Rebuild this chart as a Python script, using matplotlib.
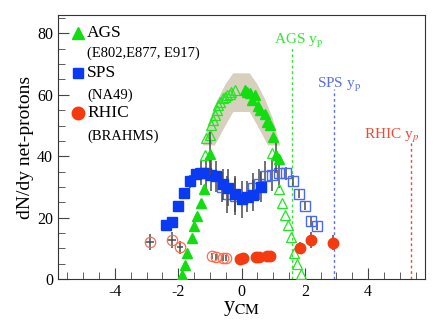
import numpy as np
import matplotlib
matplotlib.use("Agg")
import matplotlib.pyplot as plt
from matplotlib.ticker import MultipleLocator

plt.rcParams['font.family'] = ['Liberation Serif', 'DejaVu Serif']
plt.rcParams['mathtext.fontset'] = 'stix'
plt.rcParams['axes.unicode_minus'] = False

# AGS (E802, E877, E917)
ags_x = [-1.87, -1.79, -1.71, -1.58, -1.49, -1.40, -1.29, -1.20, -0.99]
ags_y = [1.4, 4.7, 8.4, 13.4, 17.4, 20.6, 24.7, 29.2, 40.8]
ags_top_x = [0.10, 0.17, 0.26, 0.33, 0.42, 0.52, 0.60, 0.73, 0.80, 0.90, 1.00, 1.10, 1.17]
ags_top_y = [61.5, 61.0, 60.6, 58.2, 59.8, 56.2, 55.0, 53.9, 51.3, 50.1, 46.4, 40.4, 39.2]
ags_open_x = [-1.16, -1.12, -1.00, -0.95, -0.90, -0.84, -0.79, -0.74, -0.69, -0.58, -0.53,
              -0.47, -0.37, -0.32, -0.21, 0.95, 1.17, 1.29, 1.38, 1.47, 1.58, 1.66, 1.76, 1.87]
ags_open_y = [40.3, 45.8, 46.8, 50.1, 51.7, 53.3, 55.0, 56.6, 57.7, 58.8, 59.3,
              59.8, 60.4, 60.9, 61.5, 40.9, 29.4, 24.6, 20.8, 17.5, 13.6, 8.4, 5.0, 1.7]
band_x = [-1.22, -1.0, -0.75, -0.5, -0.26, 0.26, 0.5, 0.75, 1.0, 1.22,
          0.84, 0.53, 0.26, -0.26, -0.53, -0.84]
band_y = [43.5, 52, 58.5, 63.5, 67, 67, 63.5, 58.5, 52, 43.5,
          43.5, 49.5, 54.4, 54.4, 49.5, 43.5]

# SPS (NA49)
sps_x = [-2.40, -2.21, -2.00, -1.82, -1.63, -1.44, -1.27, -1.12, -0.95, -0.80,
         -0.60, -0.43, -0.22, 0.00, 0.17, 0.37, 0.63]
sps_y = [17.5, 18.6, 23.9, 27.9, 31.8, 34.2, 34.6, 34.4, 33.8, 33.4,
         30.8, 29.7, 27.7, 25.9, 26.8, 27.3, 30.0]
sps_err = [1.5, 1.5, 1.5, 1.5, 2, 2, 4, 5, 5, 5, 5, 6, 6, 6, 5, 5, 5]
sps_open_x = [-0.63, -0.45, -0.22, 0.37, 0.55, 0.74, 0.95, 1.20, 1.40, 1.62, 1.81, 2.00, 2.20, 2.40]
sps_open_y = [30.0, 27.6, 27.0, 29.6, 30.8, 33.4, 33.8, 34.6, 34.4, 32.0, 27.8, 23.9, 18.8, 17.4]
sps_open_err = [5, 6, 6, 5, 5, 5, 5, 5, 2, 2, 1.5, 1.5, 1.5, 1.5]

# RHIC (BRAHMS)
rhic_x = [-0.05, 0.05, 0.45, 0.55, 0.82, 0.90, 1.84, 2.20, 2.90]
rhic_y = [6.6, 6.9, 7.1, 7.3, 7.5, 7.6, 10.2, 12.7, 11.8]
rhic_err = [1.0, 1.0, 1.0, 1.0, 1.0, 1.0, 2.0, 2.5, 2.5]
rhic_open_x = [-2.90, -2.20, -1.95, -0.92, -0.82, -0.58, -0.48]
rhic_open_y = [12.1, 12.7, 10.3, 7.4, 7.3, 7.0, 6.8]
rhic_open_err = [2.5, 2.5, 2.0, 1.0, 1.0, 1.0, 1.0]

# beam rapidities
yp_x = [1.59, 2.91, 5.36]
yp_top = [76, 61.8, 45.2]
yp_labels = ['AGS y$_{\\mathrm{p}}$', 'SPS y$_{\\mathrm{p}}$', 'RHIC y$_{p}$']
yp_colors = ['#33e633', '#5a6fe6', '#ee4a33']

green = '#11dd11'
blue = '#0a3af2'
red = '#f53a10'
red_open = '#ff6a4a'

fig = plt.figure(figsize=(4.48, 3.21), dpi=100)
ax = fig.add_axes([58/448, 1-279/321, 367/448, 264/321])

ax.fill(band_x, band_y, color='#d6d0bc', lw=0, zorder=1)

for x, top, c in zip(yp_x, yp_top, yp_colors):
    ax.plot([x, x], [0, top], ls=(0, (2, 2)), color=c, lw=1, zorder=1)
ax.text(1.03, 76.5, yp_labels[0], color=yp_colors[0], fontsize=11)
ax.text(2.39, 62.3, yp_labels[1], color=yp_colors[1], fontsize=11)
ax.text(3.87, 45.7, yp_labels[2], color=yp_colors[2], fontsize=11)

ekw = dict(ecolor='#4a4a4a', elinewidth=1.1, capsize=0, ls='none')
ax.errorbar(sps_open_x, sps_open_y, yerr=sps_open_err, marker='s', ms=6.5, mfc='none',
            mec='#4a6af0', mew=1, zorder=2, **ekw)
ax.errorbar(sps_x, sps_y, yerr=sps_err, marker='s', ms=6.5, mfc=blue, mec=blue, zorder=3, **ekw)

ax.plot(ags_open_x, ags_open_y, ls='none', marker='^', ms=7, mfc='none', mec='#22e622',
        mew=0.9, zorder=4)
ax.errorbar(ags_x, ags_y, yerr=[0]*8 + [7], marker='^', ms=7, mfc=green, mec=green, zorder=4, **ekw)
ax.errorbar(ags_top_x, ags_top_y, yerr=[0]*11 + [6, 0], marker='^', ms=7, mfc=green, mec=green,
            zorder=4, **ekw)

ax.errorbar(rhic_open_x, rhic_open_y, yerr=rhic_open_err, xerr=[0.12, 0.12, 0.1, 0, 0, 0, 0],
            marker='o', ms=7.5, mfc='none', mec=red_open, mew=0.9, zorder=5, **ekw)
ax.errorbar(rhic_x, rhic_y, yerr=rhic_err, xerr=[0]*6 + [0.1, 0.1, 0.12],
            marker='o', ms=7.5, mfc=red, mec=red, zorder=5, **ekw)

# legend
lx, tx = 0.055, 0.079
ax.plot([lx], [0.932], marker='^', ms=9, color=green, transform=ax.transAxes, clip_on=False)
ax.text(tx, 0.932, 'AGS', fontsize=12.5, va='center', transform=ax.transAxes)
ax.text(tx, 0.856, '(E802,E877, E917)', fontsize=10.5, va='center', transform=ax.transAxes)
ax.plot([lx], [0.780], marker='s', ms=7, color=blue, transform=ax.transAxes, clip_on=False)
ax.text(tx, 0.780, 'SPS', fontsize=12.5, va='center', transform=ax.transAxes)
ax.text(tx, 0.697, '(NA49)', fontsize=10.5, va='center', transform=ax.transAxes)
ax.plot([lx], [0.629], marker='o', ms=9, color=red, transform=ax.transAxes, clip_on=False)
ax.text(tx, 0.629, 'RHIC', fontsize=12.5, va='center', transform=ax.transAxes)
ax.text(tx, 0.542, '(BRAHMS)', fontsize=10.5, va='center', transform=ax.transAxes)

ax.set_xlim(-5.8, 5.8)
ax.set_ylim(0, 86)
ax.set_xticks([-4, -2, 0, 2, 4])
ax.set_yticks([0, 20, 40, 60, 80])
ax.xaxis.set_minor_locator(MultipleLocator(0.5))
ax.yaxis.set_minor_locator(MultipleLocator(5))
ax.tick_params(which='both', direction='in', top=False, right=False, labelsize=11.5,
               color='#444444')
ax.tick_params(which='major', length=8)
ax.tick_params(which='minor', length=5)
for s in ax.spines.values():
    s.set_color('#333333')
ax.set_ylabel('dN/dy net-protons', fontsize=14, labelpad=2)
ax.set_xlabel('y$_{\\mathrm{CM}}$', fontsize=16)
ax.xaxis.set_label_coords(0.5, -0.075, transform=ax.transAxes)
ax.xaxis.label.set_va('top')

fig.savefig('out.png', dpi=100)
